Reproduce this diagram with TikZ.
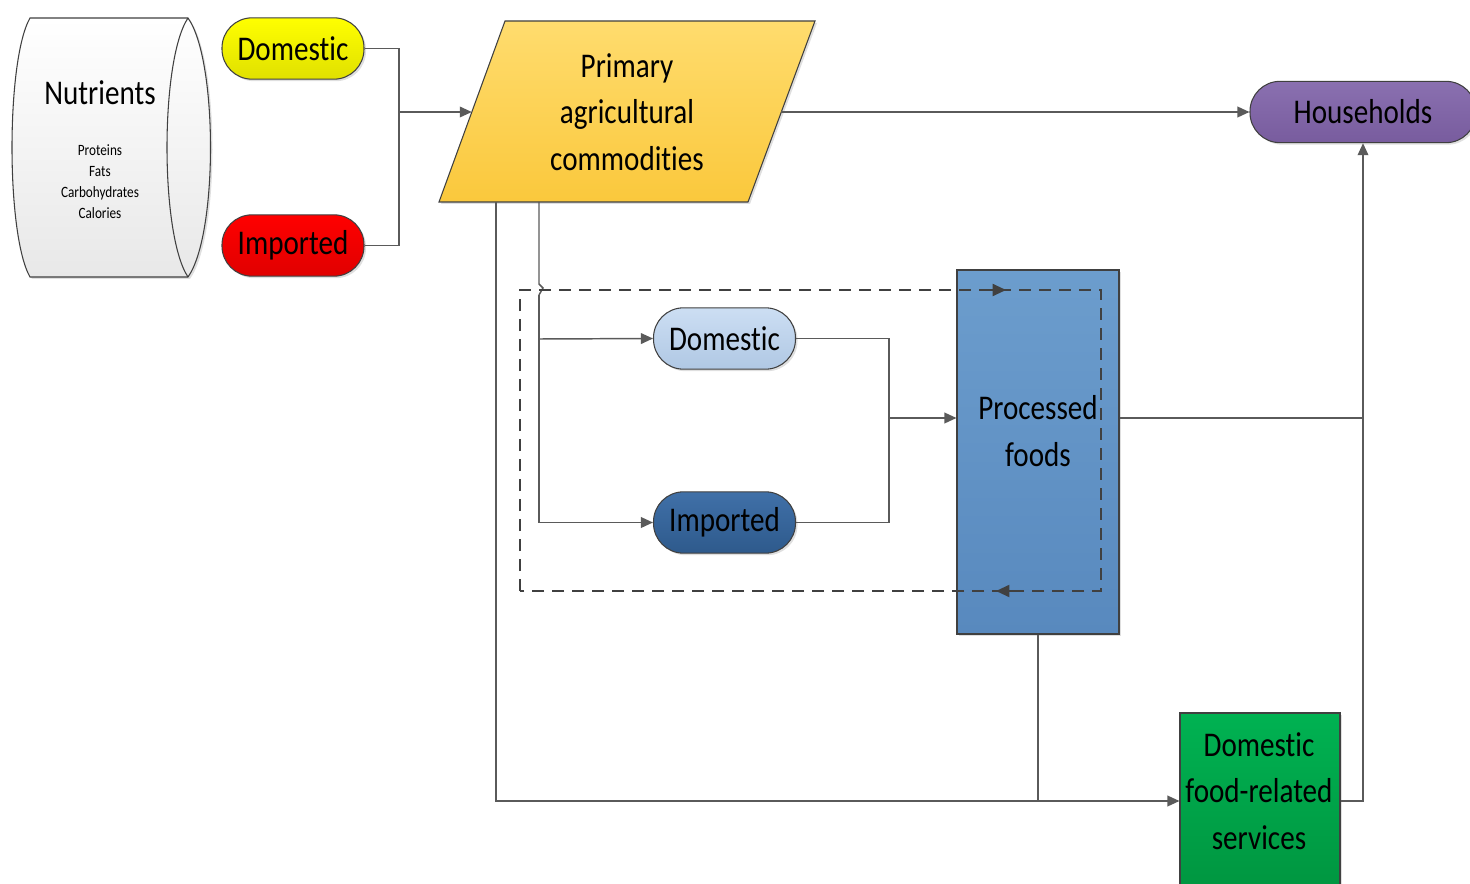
\documentclass[tikz,border=0pt]{standalone}
\usepackage{fontspec}
\setmainfont{Carlito}[FakeStretch=0.84, Ligatures=NoCommon]
\usetikzlibrary{arrows.meta,shadows,calc}
\definecolor{linec}{HTML}{5A5A5A}
\definecolor{bord}{HTML}{404040}
\tikzset{
  conn/.style={draw=linec, line width=1.1pt},
  arr/.style={conn, -{Triangle[length=9pt,width=8pt]}},
  dline/.style={draw=bord, line width=1.4pt, dash pattern=on 9pt off 6pt},
  shad/.style={drop shadow={opacity=0.25, shadow xshift=1.5pt, shadow yshift=-1.5pt}},
  pill/.style={shad, draw=bord, line width=0.8pt, minimum width=106.5pt, minimum height=46pt, rounded corners=22.5pt, inner sep=0pt, text=black},
  boxx/.style={shad, draw=bord, line width=0.8pt, inner sep=0pt},
  big/.style={font=\fontsize{26}{35}\selectfont, align=center}
}
\begin{document}
\begin{tikzpicture}[x=0.75pt,y=-0.75pt]
\useasboundingbox (0,0) rectangle (1470,884);

% Nutrients storage shape
\path[shad, draw=bord, line width=0.8pt, top color=white, bottom color=gray!18]
  (30,18) -- (188,18) .. controls (218,60) and (218,235) .. (188,277) -- (30,277)
  .. controls (6,235) and (6,60) .. (30,18) -- cycle;
\draw[draw=bord, line width=0.8pt] (188,18) .. controls (160,60) and (160,235) .. (188,277);
\node[big] (nut) at (100,93) {Nutrients};
\node[font=\fontsize{11.8}{15.75}\selectfont, align=center] (nutl) at (100,181.5) {Proteins\\Fats\\Carbohydrates\\Calories};

% Source pills
\node[pill, big, top color=yellow, bottom color=yellow!88!black] (dom1) at (293,48.5) {Domestic};
\node[pill, big, top color=red, bottom color=red!88!black] (imp1) at (293,245.5) {Imported};

% Primary agricultural commodities (parallelogram)
\path[shad, draw=bord, line width=0.8pt, top color={rgb,255:red,255;green,220;blue,110}, bottom color={rgb,255:red,250;green,200;blue,60}]
  (505,21) -- (815,21) -- (748,202) -- (439,202) -- cycle;
\node[big] (prim) at (627,112) {Primary\\agricultural\\commodities};
\coordinate (primL) at (471.8,112);
\coordinate (primR) at (781.3,112);
\coordinate (primB1) at (496,202);
\coordinate (primB2) at (539,202);

% Households
\node[pill, big, minimum width=169.5pt, top color={rgb,255:red,138;green,112;blue,176}, bottom color={rgb,255:red,120;green,92;blue,158}] (hh) at (1363,112) {Households};

% Domestic / Imported processed inputs
\node[pill, big, top color={rgb,255:red,204;green,222;blue,243}, bottom color={rgb,255:red,176;green,200;blue,228}] (dom2) at (724.5,338.5) {Domestic};
\node[pill, big, top color={rgb,255:red,64;green,112;blue,168}, bottom color={rgb,255:red,46;green,90;blue,140}] (imp2) at (724.5,522.5) {Imported};

% Processed foods
\node[boxx, minimum width=121.5pt, minimum height=273pt, top color={rgb,255:red,108;green,157;blue,205}, bottom color={rgb,255:red,88;green,137;blue,190}] (proc) at (1038,452) {};
\node[big] (proct) at (1038,431) {Processed\\foods};

% Domestic food-related services
\node[boxx, minimum width=120pt, minimum height=132pt, top color={rgb,255:red,0;green,178;blue,82}, bottom color={rgb,255:red,0;green,150;blue,64}] (svc) at (1260,801) {};
\node[big] (svct) at (1259,791) {Domestic\\food-related\\services};

% Connectors
\coordinate (j1) at (399,112);
\draw[conn] (dom1.east) -| (j1) |- (imp1.east);
\draw[arr] (j1) -- (primL);
\draw[arr] (primR) -- (hh.west);

\draw[arr] (primB1) |- (svc.west);
\draw[conn] (proc.south) -- (proc.south |- svc.west);

\coordinate (h1) at (539,284);
\coordinate (h2) at (539,295);
\coordinate (j2) at (539,339);
\draw[conn] (primB2) -- (h1) -- (543,288) -- (h2);
\draw[arr] (h2) |- (imp2.west);
\draw[arr] (j2) -- (dom2.west);

\coordinate (j3) at (889,418);
\draw[conn] (dom2.east) -| (j3) |- (imp2.east);
\draw[arr] (j3) -- (proc.west |- j3);

\coordinate (j4) at (1363,418);
\draw[arr] (proc.east |- j3) -| (hh.south);
\draw[conn] (svc.east) -| (j4);

% Dashed loop
\coordinate (d1) at (520,290);
\coordinate (d2) at (1101,290);
\coordinate (d3) at (1101,591);
\coordinate (d4) at (520,591);
\draw[dline] (d4) -- (d1) -- (d2) -- (d3) -- cycle;
\draw[draw=bord, line width=1.4pt, -{Triangle[length=10pt,width=9pt]}] (985,290) -- (1006,290);
\draw[draw=bord, line width=1.4pt, -{Triangle[length=10pt,width=9pt]}] (1022,591) -- (996,591);
\end{tikzpicture}
\end{document}
